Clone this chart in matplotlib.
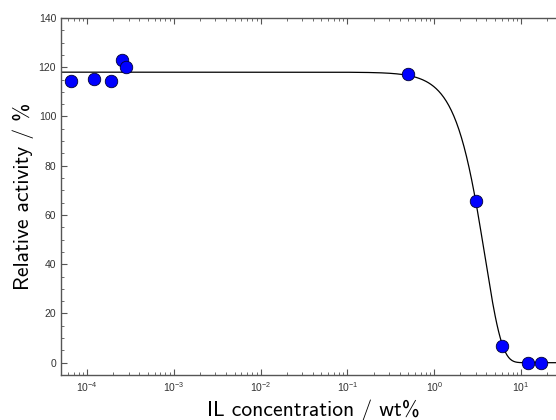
import os
import numpy as np
import matplotlib
matplotlib.use("Agg")
import matplotlib.pyplot as plt
from matplotlib.font_manager import FontProperties

# Computer Modern sans shipped with matplotlib
cmss = FontProperties(fname=os.path.join(matplotlib.get_data_path(), 'fonts', 'ttf', 'cmss10.ttf'), size=15.5)

# measured points
conc = [6.5e-5, 1.2e-4, 1.9e-4, 2.5e-4, 2.8e-4, 0.5, 3.0, 6.0, 12.0, 17.0]
activity = [114.5, 115.4, 114.4, 122.8, 120.2, 117.3, 65.7, 6.9, -0.1, 0.0]

# fitted curve parameters
fit_top = 118.0
fit_bottom = 0.0
fit_k = 3.83
fit_m = 2.2

fig = plt.figure(figsize=(5.56, 4.2), dpi=100)
ax = fig.add_axes([61 / 556, 45 / 420, 505 / 556, 357 / 420])

xs = np.logspace(np.log10(5e-5), np.log10(33), 600)
ys = fit_bottom + (fit_top - fit_bottom) * np.exp(-(xs / fit_k) ** fit_m)
ax.plot(xs, ys, color='black', lw=0.9)
ax.plot(conc, activity, 'o', color='blue', mec='#000033', mew=0.6, ms=9, clip_on=False)

ax.set_xscale('log')
ax.set_xlim(5e-5, 33)
ax.set_ylim(-5, 140)
ax.set_yticks(np.arange(0, 141, 20))
ax.set_yticks(np.arange(-5, 141, 5), minor=True)

for s in ax.spines.values():
    s.set_color('#555555')
    s.set_linewidth(1.0)
ax.tick_params(which='both', direction='in', top=True, right=True,
               color='#555555', labelsize=7.5, labelcolor='#333333')
ax.tick_params(which='major', length=4, width=0.8)
ax.tick_params(which='minor', length=2, width=0.6)
for lab in ax.get_xticklabels() + ax.get_yticklabels():
    lab.set_fontfamily('Liberation Sans')

ax.set_xlabel('IL concentration / wt%', fontproperties=cmss, labelpad=4)
ax.set_ylabel('Relative activity / %', fontproperties=cmss, labelpad=3)

fig.savefig('out.png', dpi=100)
